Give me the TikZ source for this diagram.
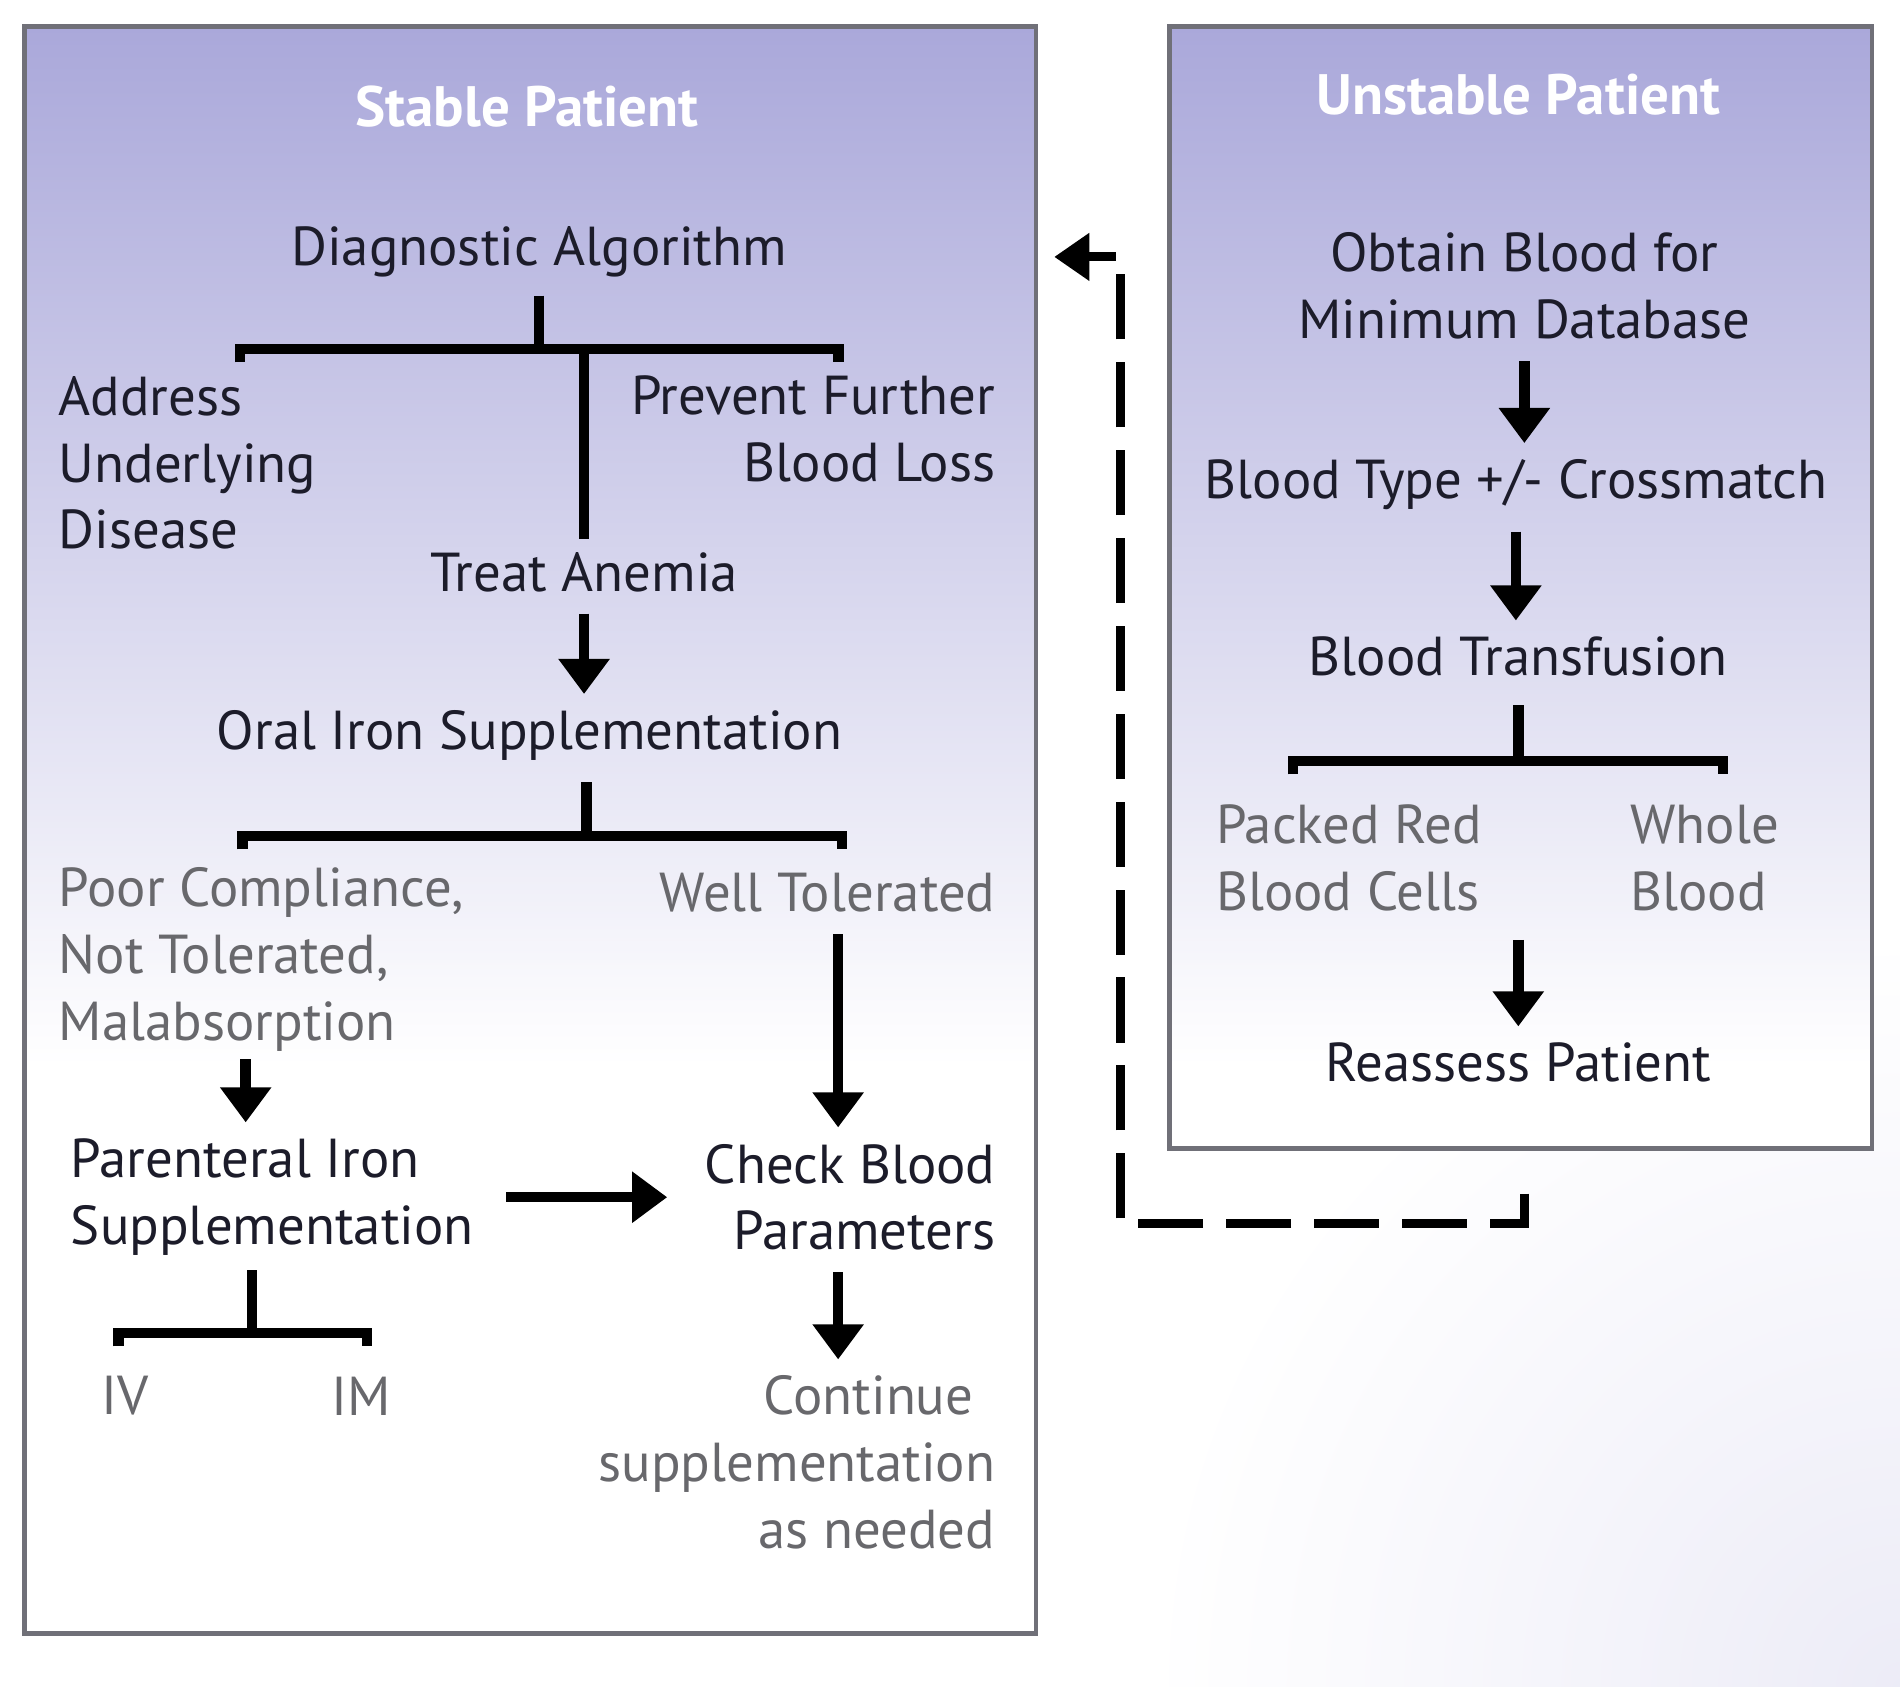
\documentclass[tikz,border=0pt]{standalone}
\usepackage{fontspec}
\setmainfont{PT Sans}
\usetikzlibrary{arrows.meta}

\definecolor{lavtop}{RGB}{170,168,218}
\definecolor{boxline}{RGB}{112,112,120}
\definecolor{inkdark}{RGB}{28,28,42}
\definecolor{inkgray}{RGB}{104,104,108}

\begin{document}
\begin{tikzpicture}[x=0.012117cm, y=-0.012117cm,
  every node/.style={inner sep=0pt, font=\fontsize{15.6}{19}\selectfont},
  lbl/.style={text=inkdark},
  opt/.style={text=inkgray},
  ttl/.style={text=white, font=\fontsize{16.2}{19}\selectfont\bfseries},
  boxframe/.style={draw=boxline, line width=1.3pt},
  fork/.style={line width=3pt, line join=miter},
  flow/.style={line width=3pt, shorten <=6pt, shorten >=4.5pt,
    -{Triangle[width=14pt,length=10pt]}},
  backlink/.style={line width=2.6pt, dash pattern=on 18.5pt off 6.5pt,
    -{Triangle[width=13pt,length=10pt]}}
  ]
  \useasboundingbox (0,0) rectangle (1568,1392);
  \fill[white] (0,0) rectangle (1568,1392);
  \shade[inner color=lavtop!22, outer color=white] (1568,1392) circle (620);

  % the two panels
  \shade[top color=lavtop, bottom color=white] (20,22) rectangle (855,880);
  \fill[white] (20,880) rectangle (855,1348);
  \draw[boxframe] (20,22) rectangle (855,1348);
  \shade[top color=lavtop, bottom color=white] (965,22) rectangle (1545,880);
  \fill[white] (965,880) rectangle (1545,948);
  \draw[boxframe] (965,22) rectangle (1545,948);

  \node[ttl] (stable) at (435,88) {Stable Patient};
  \node[ttl] (unstable) at (1253,78) {Unstable Patient};

  % stable side
  \node[lbl] (diag) at (445,208) {Diagnostic Algorithm};
  \node[lbl, anchor=west, align=left] (addr) at (48,382) {Address\\Underlying\\Disease};
  \node[lbl, anchor=east, align=right] (prev) at (822,354) {Prevent Further\\Blood Loss};
  \node[lbl] (treat) at (482,472) {Treat Anemia};
  \node[lbl] (oral) at (437,607) {Oral Iron Supplementation};
  \node[opt, anchor=west, align=left] (poor) at (48,792) {Poor Compliance,\\Not Tolerated,\\Malabsorption};
  \node[opt, anchor=east] (well) at (822,737) {Well Tolerated};
  \node[lbl, anchor=west, align=left] (paren) at (58,988) {Parenteral Iron\\Supplementation};
  \node[lbl, anchor=east, align=right] (check) at (822,988) {Check Blood\\Parameters};
  \node[opt] (iv) at (103,1152) {IV};
  \node[opt] (im) at (298,1152) {IM};
  \node[opt, anchor=east, align=right] (cont) at (822,1207) {Continue\hspace*{.4em}\\supplementation\\as needed};

  % unstable side
  \node[lbl, align=center] (obtain) at (1258,236) {Obtain Blood for\\Minimum Database};
  \node[lbl] (btype) at (1251,400) {Blood Type +/- Crossmatch};
  \node[lbl] (transf) at (1253,542) {Blood Transfusion};
  \node[opt, anchor=west, align=left] (packed) at (1003,708) {Packed Red\\Blood Cells};
  \node[opt, anchor=west, align=left] (whole) at (1345,708) {Whole\\Blood};
  \node[lbl] (reass) at (1253,877) {Reassess Patient};

  % fork points
  \coordinate (fkA) at (445,288);
  \coordinate (tkA1) at (198,299);
  \coordinate (tkA2) at (692,299);
  \coordinate (fkB) at (484,690);
  \coordinate (tkB1) at (200,701);
  \coordinate (tkB2) at (695,701);
  \coordinate (fkC) at (208,1100);
  \coordinate (tkC1) at (98,1111);
  \coordinate (tkC2) at (303,1111);
  \coordinate (fkD) at (1253,628);
  \coordinate (tkD1) at (1067,639);
  \coordinate (tkD2) at (1422,639);
  \coordinate (lkA) at (1258,985);
  \coordinate (lkB) at (1258,1010);
  \coordinate (lkC) at (925,212);
  \coordinate (lkD) at (870,212);

  \draw[fork, shorten <=5pt] (diag.south) -- (fkA);
  \draw[fork] (tkA1) |- (fkA) -| (tkA2);
  \draw[fork, shorten >=3.5pt] (fkA -| treat.north) -- (treat.north);
  \draw[flow] (treat.south) -- (treat.south |- oral.north);

  \draw[fork, shorten <=6pt] (fkB |- oral.south) -- (fkB);
  \draw[fork] (tkB1) |- (fkB) -| (tkB2);
  \draw[flow] ([xshift=3pt]well.south) -- ([xshift=3pt]well.south |- check.north);
  \draw[flow, shorten <=2pt] ([xshift=-4.5pt]poor.south) -- ([xshift=-4.5pt]poor.south |- paren.north);
  \draw[flow, shorten <=9pt, shorten >=10.5pt] (paren.east) -- (paren.east -| check.west);
  \draw[flow] ([xshift=3pt]well.south |- check.south) -- ([xshift=3pt]well.south |- cont.north);
  \draw[fork, shorten <=4pt] (fkC |- paren.south) -- (fkC);
  \draw[fork] (tkC1) |- (fkC) -| (tkC2);

  \draw[flow] (obtain.south) -- (obtain.south |- btype.north);
  \draw[flow] (btype.south) -- (btype.south |- transf.north);
  \draw[fork, shorten <=8pt] (transf.south) -- (fkD);
  \draw[fork] (tkD1) |- (fkD) -| (tkD2);
  \draw[flow, shorten <=8pt] (fkD |- packed.south) -- (fkD |- reass.north);

  % back to the stable work-up
  \draw[backlink] (lkA) -- (lkB) -| (lkC) -- (lkD);
\end{tikzpicture}
\end{document}
